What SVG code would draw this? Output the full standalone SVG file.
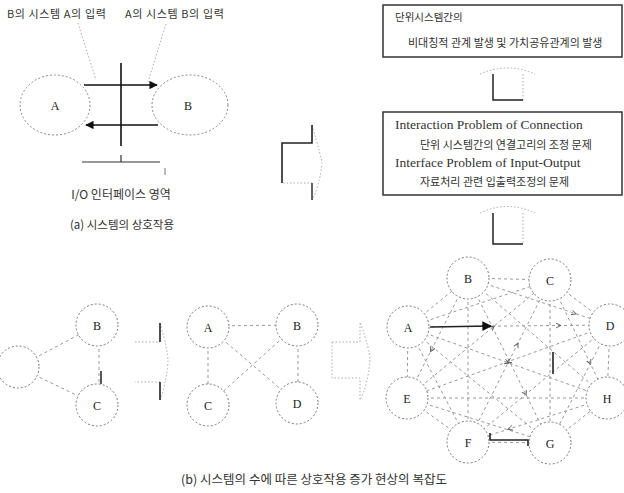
<svg xmlns="http://www.w3.org/2000/svg" width="624" height="493" viewBox="0 0 624 493">
<style>
  .kr { font-family: "Noto Sans CJK KR", "Noto Sans", sans-serif; fill: #333; }
  .en { font-family: "Liberation Serif", "Times New Roman", serif; fill: #333; font-size: 13.5px; }
  .lbl { font-family: "Liberation Serif", serif; font-size: 12px; fill: #222; text-anchor: middle; }
  .dotc { fill: #fff; stroke: #777; stroke-width: 1; stroke-dasharray: 2 2; }
  .dote { fill: none; stroke: #888; stroke-width: 1; stroke-dasharray: 2 2; }
  .edge { fill: none; stroke: #999; stroke-width: 1; stroke-dasharray: 3 3; }
  .arr { marker-mid: url(#mid); }
  .box { fill: none; stroke: #333; stroke-width: 1.5; }
  .faint { fill: none; stroke: #aaa; stroke-width: 1; stroke-dasharray: 1.5 2; }
</style>
<defs>
  <marker id="head" viewBox="0 0 10 10" refX="9" refY="5" markerWidth="6" markerHeight="6" orient="auto">
    <path d="M0,0 L10,5 L0,10 z" fill="#111"/>
  </marker>
  <marker id="mid" viewBox="0 0 10 10" refX="5" refY="5" markerWidth="6" markerHeight="6" orient="auto">
    <path d="M0,1 L8,5 L0,9" fill="none" stroke="#555" stroke-width="1.5"/>
  </marker>
</defs>
<rect width="624" height="493" fill="#fff"/>

<!-- (a) system interaction -->
<g id="a-texts">
  <text class="kr" x="7" y="18" font-size="11" letter-spacing="0.6">B의 시스템 A의 입력</text>
  <text class="kr" x="125" y="18" font-size="11" letter-spacing="0.6">A의 시스템 B의 입력</text>
  <text class="kr" x="121" y="199" font-size="12" text-anchor="middle">I/O 인터페이스 영역</text>
  <text class="kr" x="122" y="229" font-size="11.5" text-anchor="middle">(a) 시스템의 상호작용</text>
</g>
<g id="a-node-A">
  <ellipse class="dote" cx="55" cy="105" rx="35" ry="30"/>
  <text class="lbl" x="55" y="110" font-size="10">A</text>
</g>
<g id="a-node-B">
  <ellipse class="dote" cx="190" cy="105" rx="38" ry="30"/>
  <text class="lbl" x="188" y="110" font-size="10">B</text>
</g>
<g id="a-connectors">
  <line class="faint" x1="78" y1="23" x2="96" y2="80"/>
  <line class="faint" x1="166" y1="24" x2="148" y2="82"/>
  <line x1="121" y1="63" x2="121" y2="146" stroke="#111" stroke-width="1.6"/>
  <line x1="84" y1="85" x2="157" y2="85" stroke="#111" stroke-width="1.4" marker-end="url(#head)"/>
  <line x1="158" y1="125" x2="86" y2="125" stroke="#111" stroke-width="1.4" marker-end="url(#head)"/>
  <path d="M82,162 H160 M121,162 V155" stroke="#333" stroke-width="1.2" fill="none"/>
  <line x1="165" y1="168" x2="165" y2="175" stroke="#777" stroke-width="1"/>
</g>

<!-- big right block arrow -->
<g id="arrow-right-big">
  <path class="faint" d="M312,125 Q322,160 322,163 Q320,185 312,200" />
  <path class="faint" d="M283,183 H312"/>
  <path d="M282,183 V143 H312 V125" fill="none" stroke="#222" stroke-width="1.6"/>
  <path d="M312,183 V200" fill="none" stroke="#222" stroke-width="1.4"/>
</g>

<!-- right boxes -->
<g id="box-top">
  <rect class="box" x="383" y="5" width="239" height="52"/>
  <text class="kr" x="395" y="21" font-size="10.5">단위시스템간의</text>
  <text class="kr" x="408" y="47" font-size="11">비대칭적 관계 발생 및 가치공유관계의 발생</text>
</g>
<g id="arrow-up-1">
  <path class="faint" d="M480,74 Q507,62 535,74 M523,74 V100"/>
  <path d="M493,74 V100 H523" fill="none" stroke="#222" stroke-width="1.5"/>
</g>
<g id="box-mid">
  <rect class="box" x="383" y="112" width="239" height="83"/>
  <text class="en" x="395" y="129">Interaction Problem of Connection</text>
  <text class="kr" x="420" y="149" font-size="11">단위 시스템간의 연결고리의 조정 문제</text>
  <text class="en" x="395" y="167">Interface Problem of Input-Output</text>
  <text class="kr" x="420" y="186" font-size="11">자료처리 관련 입출력조정의 문제</text>
</g>
<g id="arrow-up-2">
  <path class="faint" d="M480,213 Q507,200 535,213 M523,213 V244"/>
  <path d="M493,213 V244 H523" fill="none" stroke="#222" stroke-width="1.5"/>
</g>

<!-- (b) connectors -->
<g id="connectors">
  <!-- left graph -->
  <line class="edge" x1="18" y1="367" x2="97" y2="325"/>
  <line class="edge" x1="18" y1="367" x2="97" y2="405"/>
  <line class="edge" x1="99" y1="325" x2="99" y2="405"/>
  <line x1="101" y1="371" x2="101" y2="384" stroke="#222" stroke-width="1.5"/>
  <!-- middle graph -->
  <line class="edge" x1="208" y1="326" x2="297" y2="325"/>
  <line class="edge" x1="208" y1="327" x2="208" y2="405"/>
  <line class="edge" x1="298" y1="325" x2="298" y2="403"/>
  <line class="edge" x1="208" y1="327" x2="297" y2="403"/>
  <line class="edge" x1="297" y1="325" x2="208" y2="405"/>
  <!-- big graph K8 -->
  <line class="edge" x1="408" y1="327" x2="468" y2="278"/>
  <line class="edge" x1="408" y1="327" x2="550" y2="280"/>
  <polyline class="edge arr" points="408,327 559,325.5 610,325"/>
  <line class="edge" x1="408" y1="327" x2="407" y2="398"/>
  <line class="edge" x1="408" y1="327" x2="468" y2="442"/>
  <line class="edge" x1="408" y1="327" x2="550" y2="443"/>
  <polyline class="edge arr" points="408,327 507.5,362.5 607,398"/>
  <line class="edge" x1="468" y1="278" x2="550" y2="280"/>
  <polyline class="edge arr" points="468,278 574.5,313.3 610,325"/>
  <polyline class="edge arr" points="468,278 431.4,350 407,398"/>
  <line class="edge" x1="468" y1="278" x2="468" y2="442"/>
  <polyline class="edge arr" points="468,278 525.4,393.5 550,443"/>
  <line class="edge" x1="468" y1="278" x2="607" y2="398"/>
  <line class="edge" x1="550" y1="280" x2="610" y2="325"/>
  <polyline class="edge arr" points="407,398 492.8,327.2 550,280"/>
  <polyline class="edge arr" points="468,442 517.2,344.8 550,280"/>
  <line class="edge" x1="550" y1="280" x2="550" y2="443"/>
  <polyline class="edge arr" points="550,280 589.9,362.6 607,398"/>
  <polyline class="edge arr" points="610,325 508.5,361.5 407,398"/>
  <line class="edge" x1="610" y1="325" x2="468" y2="442"/>
  <line class="edge" x1="610" y1="325" x2="550" y2="443"/>
  <line class="edge" x1="610" y1="325" x2="607" y2="398"/>
  <line class="edge" x1="407" y1="398" x2="468" y2="442"/>
  <line class="edge" x1="407" y1="398" x2="550" y2="443"/>
  <line class="edge" x1="407" y1="398" x2="607" y2="398"/>
  <line class="edge" x1="468" y1="442" x2="550" y2="443"/>
  <polyline class="edge arr" points="607,398 509.7,428.8 468,442"/>
  <line class="edge" x1="550" y1="443" x2="607" y2="398"/>
  <!-- solid highlights -->
  <line x1="430" y1="327" x2="491" y2="326" stroke="#222" stroke-width="1.6" marker-end="url(#head)"/>
  <line x1="553" y1="352" x2="553" y2="374" stroke="#222" stroke-width="1.6"/>
  <path d="M490,433 V440 H528 V446" fill="none" stroke="#222" stroke-width="1.6"/>
</g>

<!-- left graph nodes -->
<g id="g1-node-A"><circle class="dotc" cx="18" cy="367" r="21"/></g>
<g id="g1-node-B"><circle class="dotc" cx="97" cy="325" r="21"/><text class="lbl" x="97" y="330">B</text></g>
<g id="g1-node-C"><circle class="dotc" cx="97" cy="405" r="21"/><text class="lbl" x="97" y="410">C</text></g>

<!-- arrow 1 -->
<g id="arrow-right-1">
  <path class="faint" d="M135,342 H160 M160,323 Q168,350 168,362 Q166,385 160,400 M160,382 H135"/>
  <path d="M160,342 V323 M160,382 V400" fill="none" stroke="#222" stroke-width="1.6"/>
</g>

<!-- middle graph nodes -->
<g id="g2-node-A"><circle class="dotc" cx="208" cy="327" r="21"/><text class="lbl" x="208" y="332">A</text></g>
<g id="g2-node-B"><circle class="dotc" cx="297" cy="325" r="21"/><text class="lbl" x="297" y="330">B</text></g>
<g id="g2-node-C"><circle class="dotc" cx="208" cy="405" r="21"/><text class="lbl" x="208" y="410">C</text></g>
<g id="g2-node-D"><circle class="dotc" cx="297" cy="403" r="21"/><text class="lbl" x="297" y="408">D</text></g>

<!-- arrow 2 -->
<g id="arrow-right-2">
  <path class="faint" d="M332,342 H360 V322 Q370,350 370,360 Q368,385 360,400 V378 H332 Z"/>
</g>

<!-- big graph nodes -->
<g id="g3-node-A"><circle class="dotc" cx="408" cy="327" r="21"/><text class="lbl" x="408" y="332">A</text></g>
<g id="g3-node-B"><circle class="dotc" cx="468" cy="278" r="21"/><text class="lbl" x="468" y="283">B</text></g>
<g id="g3-node-C"><circle class="dotc" cx="550" cy="280" r="21"/><text class="lbl" x="550" y="285">C</text></g>
<g id="g3-node-D"><circle class="dotc" cx="610" cy="325" r="21"/><text class="lbl" x="610" y="330">D</text></g>
<g id="g3-node-E"><circle class="dotc" cx="407" cy="398" r="21"/><text class="lbl" x="407" y="403">E</text></g>
<g id="g3-node-F"><circle class="dotc" cx="468" cy="442" r="21"/><text class="lbl" x="468" y="447">F</text></g>
<g id="g3-node-G"><circle class="dotc" cx="550" cy="443" r="21"/><text class="lbl" x="550" y="448">G</text></g>
<g id="g3-node-H"><circle class="dotc" cx="607" cy="398" r="21"/><text class="lbl" x="607" y="403">H</text></g>

<g id="caption-b">
  <text class="kr" x="314" y="484" font-size="12.5" text-anchor="middle">(b) 시스템의 수에 따른 상호작용 증가 현상의 복잡도</text>
</g>
</svg>
